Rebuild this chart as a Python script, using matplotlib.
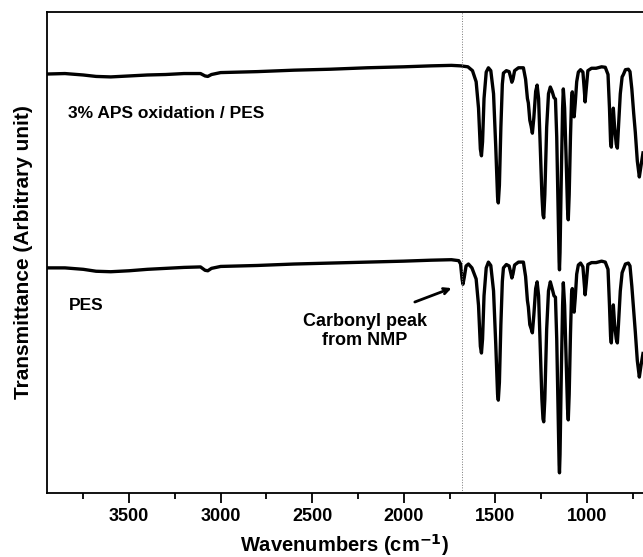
import numpy as np
import matplotlib.pyplot as plt

# FTIR spectra (wavenumber in cm-1, transmittance in arbitrary units)
wn_top = [3948, 3850, 3750, 3680, 3600, 3500, 3400, 3300, 3200, 3110, 3085, 3070, 3050, 3000,
          2800, 2600, 2400, 2200, 2000, 1850, 1740, 1690, 1650, 1625, 1605, 1592, 1582, 1576,
          1570, 1562, 1550, 1538, 1525, 1510, 1498, 1488, 1484, 1478, 1470, 1462, 1456, 1440,
          1425, 1415, 1410, 1404, 1395, 1374, 1347, 1335, 1325, 1320, 1312, 1305, 1298, 1290,
          1280, 1272, 1264, 1255, 1246, 1240, 1236, 1230, 1220, 1210, 1200, 1190, 1180, 1172,
          1165, 1158, 1152, 1150, 1147, 1140, 1133, 1129, 1122, 1114, 1106, 1102, 1097, 1090,
          1084, 1080, 1076, 1070, 1064, 1056, 1047, 1035, 1022, 1015, 1010, 1004, 995, 975,
          950, 920, 900, 885, 877, 871, 867, 862, 856, 849, 840, 834, 828, 818, 808, 801,
          790, 774, 765, 755, 745, 736, 725, 714, 705, 694]
t_top = [87.1, 87.2, 86.9, 86.6, 86.5, 86.7, 86.9, 87.0, 87.2, 87.2, 86.7, 86.6, 87.0, 87.4,
         87.6, 87.9, 88.1, 88.4, 88.6, 88.8, 88.9, 88.8, 88.6, 87.8, 85.5, 80.0, 71.5, 70.1,
         73.0, 82.0, 87.5, 88.4, 87.8, 83.0, 72.0, 61.5, 60.3, 64.0, 76.0, 85.0, 87.3, 87.8,
         87.6, 86.2, 85.4, 86.0, 87.8, 88.4, 88.4, 86.0, 82.0, 81.1, 77.5, 76.3, 74.8, 78.0,
         83.5, 84.8, 82.0, 72.0, 62.0, 57.8, 57.2, 62.0, 76.0, 83.0, 84.4, 83.5, 82.2, 81.9,
         74.0, 60.0, 48.0, 46.4, 50.0, 66.0, 80.0, 84.0, 80.0, 70.0, 59.0, 56.8, 62.0, 74.0,
         82.0, 83.4, 80.0, 78.2, 81.0, 85.5, 87.5, 88.0, 87.5, 84.0, 81.3, 84.0, 87.8, 88.3,
         88.3, 88.6, 88.5, 87.0, 80.0, 73.0, 71.9, 76.0, 80.0, 76.0, 72.5, 71.7, 76.0, 83.0,
         86.5, 87.0, 88.0, 88.1, 87.6, 84.0, 79.0, 75.0, 69.0, 65.7, 68.0, 70.7]

wn_bot = [3948, 3850, 3750, 3680, 3600, 3500, 3400, 3300, 3200, 3110, 3085, 3070, 3050, 3000,
          2800, 2600, 2400, 2200, 2000, 1850, 1740, 1700, 1690, 1682, 1677, 1670, 1660, 1647,
          1628, 1605, 1592, 1582, 1576, 1570, 1562, 1550, 1538, 1525, 1510, 1498, 1488, 1484,
          1478, 1470, 1462, 1456, 1440, 1425, 1415, 1410, 1404, 1395, 1374, 1347, 1335, 1325,
          1320, 1312, 1305, 1298, 1290, 1280, 1272, 1264, 1255, 1246, 1240, 1236, 1230, 1220,
          1210, 1200, 1190, 1180, 1172, 1165, 1158, 1152, 1150, 1147, 1140, 1133, 1129, 1122,
          1114, 1106, 1102, 1097, 1090, 1084, 1080, 1076, 1070, 1064, 1056, 1047, 1035, 1022,
          1015, 1010, 1004, 995, 975, 950, 920, 900, 885, 877, 871, 867, 862, 856, 849, 840,
          834, 828, 818, 808, 801, 790, 774, 765, 755, 745, 736, 725, 714, 705, 694]
t_bot = [46.8, 46.8, 46.5, 46.1, 46.0, 46.2, 46.5, 46.7, 46.9, 47.0, 46.3, 46.2, 46.7, 47.1,
         47.3, 47.6, 47.8, 48.0, 48.2, 48.4, 48.5, 48.3, 47.6, 44.5, 43.4, 44.8, 47.2, 47.6,
         46.8, 44.5, 39.0, 30.5, 29.1, 32.0, 41.0, 46.8, 48.0, 47.3, 42.0, 31.0, 20.5, 19.3,
         23.0, 35.0, 44.0, 46.8, 47.5, 47.2, 45.6, 44.7, 45.5, 47.4, 48.0, 48.0, 45.0, 40.0,
         38.7, 35.0, 34.2, 33.3, 37.0, 42.5, 43.9, 41.0, 30.0, 19.5, 15.4, 14.8, 19.5, 34.0,
         42.0, 43.9, 42.5, 41.0, 40.7, 32.0, 18.0, 5.8, 4.2, 8.0, 25.0, 39.0, 43.7, 39.0,
         28.5, 17.5, 15.2, 20.5, 33.0, 41.5, 42.5, 39.5, 37.6, 40.5, 45.5, 47.4, 47.8, 47.0,
         43.5, 41.2, 43.5, 47.5, 47.9, 47.9, 48.2, 48.0, 46.5, 39.0, 32.5, 31.2, 35.0, 39.1,
         35.0, 32.0, 31.2, 35.0, 42.0, 45.8, 46.5, 47.6, 47.8, 47.2, 43.0, 38.0, 33.5, 27.5,
         24.1, 26.5, 29.0]

carbonyl_wn = 1680

plt.rcParams['font.family'] = ['Liberation Sans', 'DejaVu Sans']
plt.rcParams['font.weight'] = 'bold'

fig = plt.figure(figsize=(6.43, 5.57), dpi=100)
ax = fig.add_axes([0.0731, 0.1149, 0.9269, 0.8636])

ax.plot(wn_top, t_top, color='black', lw=2.4, solid_joinstyle='round')
ax.plot(wn_bot, t_bot, color='black', lw=2.4, solid_joinstyle='round')
ax.axvline(carbonyl_wn, color='#777777', lw=0.7, ls=':')

ax.set_xlim(3948, 694)
ax.set_ylim(0, 100)
ax.set_xticks([3500, 3000, 2500, 2000, 1500, 1000])
ax.set_xticks([3750, 3250, 2750, 2250, 1750, 1250, 750], minor=True)
ax.set_yticks([])
ax.tick_params(axis='x', which='major', direction='out', length=7, width=1.3, labelsize=13, pad=4)
ax.tick_params(axis='x', which='minor', direction='out', length=4, width=1.3)
for lbl in ax.get_xticklabels():
    lbl.set_fontweight('bold')
for s in ['left', 'top', 'bottom']:
    ax.spines[s].set_linewidth(1.3)
ax.spines['right'].set_visible(False)

ax.set_xlabel('Wavenumbers (cm$^{\\mathbf{-1}}$)', fontsize=14.5, fontweight='bold', labelpad=5)
ax.set_ylabel('Transmittance (Arbitrary unit)', fontsize=15, fontweight='bold', labelpad=10)

ax.text(3833, 78.8, '3% APS oxidation / PES', fontsize=12.5, fontweight='bold', va='center')
ax.text(3828, 38.9, 'PES', fontsize=12.5, fontweight='bold', va='center')
ax.text(2211, 33.7, 'Carbonyl peak\nfrom NMP', fontsize=13, fontweight='bold',
        ha='center', va='center', linespacing=1.15)
ax.annotate('', xy=(1725, 42.8), xytext=(1954, 39.5),
            arrowprops=dict(arrowstyle='->', color='black', lw=2.0))

fig.savefig('out.png', dpi=100)
